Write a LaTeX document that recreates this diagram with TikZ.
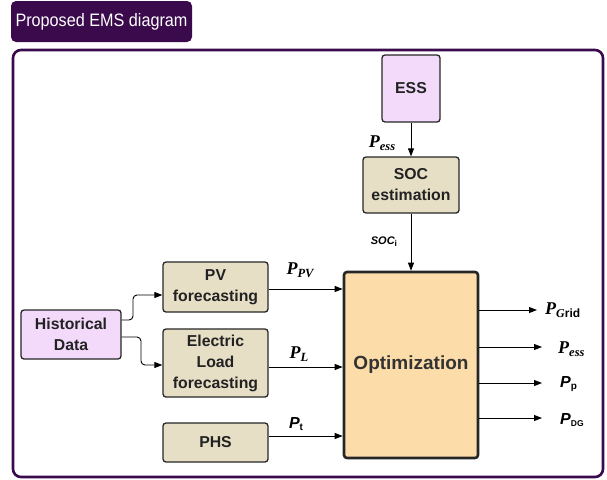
\documentclass[tikz,border=0pt]{standalone}
\usepackage{fontspec}
\setmainfont{Liberation Sans}
\newfontfamily\serifbi{Liberation Serif}
\usetikzlibrary{arrows.meta}
\definecolor{frameP}{HTML}{3A0A4C}
\definecolor{pinkF}{HTML}{F3DAFB}
\definecolor{tanF}{HTML}{E6DFC6}
\definecolor{optF}{HTML}{FCDCA8}
\definecolor{txtD}{HTML}{222222}
\newcommand{\Pser}[1]{{\fontsize{18}{18}\selectfont\serifbi\bfseries\itshape P\raisebox{-0.4ex}{\fontsize{12.5}{12.5}\selectfont #1}}}
\newcommand{\Psan}[1]{{\fontsize{16}{16}\selectfont\bfseries\itshape P\raisebox{-0.25ex}{\fontsize{10}{10}\selectfont\upshape #1}}}
\tikzset{
  blk/.style={draw=black!85, line width=1.3pt, rounded corners=3pt, inner sep=0pt, align=center,
              font=\fontsize{15.8}{21}\selectfont\bfseries, text=txtD},
  pinkbox/.style={blk, fill=pinkF},
  tanbox/.style={blk, fill=tanF},
  arr/.style={-{Triangle[length=8pt,width=6pt]}, line width=0.9pt, black},
  lbl/.style={inner sep=0pt, text=black}
}
\begin{document}
\begin{tikzpicture}[x=1pt,y=-1pt]
\useasboundingbox (0,0) rectangle (607,479);
% title
\node[fill=frameP, rounded corners=5pt, minimum width=181pt, minimum height=41pt, inner sep=0pt,
      text=white, font=\fontsize{18}{18}\selectfont] (title) at (101.5,21.5) {\scalebox{0.9}[1]{Proposed EMS diagram}};
% frame
\draw[frameP, line width=2.6pt, rounded corners=8pt] (13,50) rectangle (603,477);
% boxes
\node[pinkbox, minimum width=58pt, minimum height=67pt] (ess) at (411,88.5) {ESS};
\node[tanbox, minimum width=96pt, minimum height=56pt] (soc) at (411,185) {SOC\\estimation};
\node[blk, fill=optF, line width=2.6pt, minimum width=134pt, minimum height=186pt,
      font=\fontsize{19}{19}\selectfont\bfseries, text=black!80] (opt) at (411,365) {Optimization};
\node[pinkbox, minimum width=100pt, minimum height=49pt] (hist) at (71,334.5) {Historical\\Data};
\node[tanbox, minimum width=105pt, minimum height=50pt] (pv) at (215.5,287) {PV\\forecasting};
\node[tanbox, minimum width=105pt, minimum height=68pt] (el) at (215.5,363) {Electric\\Load\\forecasting};
\node[tanbox, minimum width=105pt, minimum height=39pt] (phs) at (215.5,442.5) {PHS};
% vertical arrows
\draw[arr] (ess.south) -- (soc.north);
\draw[arr] (soc.south) -- (opt.north);
\node[lbl] (lpess) at (382,143) {\Pser{ess}};
\node[lbl, font=\fontsize{11}{11}\selectfont] (lsoc) at (384,242) {{\bfseries\itshape SOC\raisebox{-0.3ex}{\fontsize{8.5}{8.5}\selectfont\upshape i}}};
% inputs to optimization
\draw[arr] (pv.east |- 0,289) -- (opt.west |- 0,289);
\draw[arr] (el.east |- 0,367) -- (opt.west |- 0,367);
\draw[arr] (phs.east |- 0,436) -- (opt.west |- 0,436);
\node[lbl] (lppv) at (300,270) {\Pser{PV}};
\node[lbl] (lpl) at (299,354) {\Pser{L}};
\node[lbl] (lpt) at (296,424) {\Psan{t}};
% historical data connectors
\draw[arr, rounded corners=4pt] (hist.east |- 0,320) -- (133,320) -- (133,295) -- (pv.west |- 0,295);
\draw[arr, rounded corners=4pt] (hist.east |- 0,337) -- (141,337) -- (141,365) -- (el.west |- 0,365);
% outputs
\coordinate (o1) at (537,310);
\coordinate (o2) at (542,347);
\coordinate (o3) at (542,383);
\coordinate (o4) at (542,418);
\draw[arr] (opt.east |- o1) -- (o1);
\draw[arr] (opt.east |- o2) -- (o2);
\draw[arr] (opt.east |- o3) -- (o3);
\draw[arr] (opt.east |- o4) -- (o4);
\node[lbl, anchor=west] (lgrid) at (545,310) {{\fontsize{18}{18}\selectfont\serifbi\bfseries\itshape P}\raisebox{-0.45ex}{\fontsize{12}{12}\selectfont{\serifbi\bfseries\itshape G}\bfseries rid}};
\node[lbl, anchor=west] (less) at (558,349) {\Pser{ess}};
\node[lbl, anchor=west] (lpp) at (560,384) {\Psan{p}};
\node[lbl, anchor=west] (ldg) at (560,420) {{\fontsize{16}{16}\selectfont\bfseries\itshape P\raisebox{-0.25ex}{\fontsize{8.5}{8.5}\selectfont\upshape DG}}};
\end{tikzpicture}
\end{document}
